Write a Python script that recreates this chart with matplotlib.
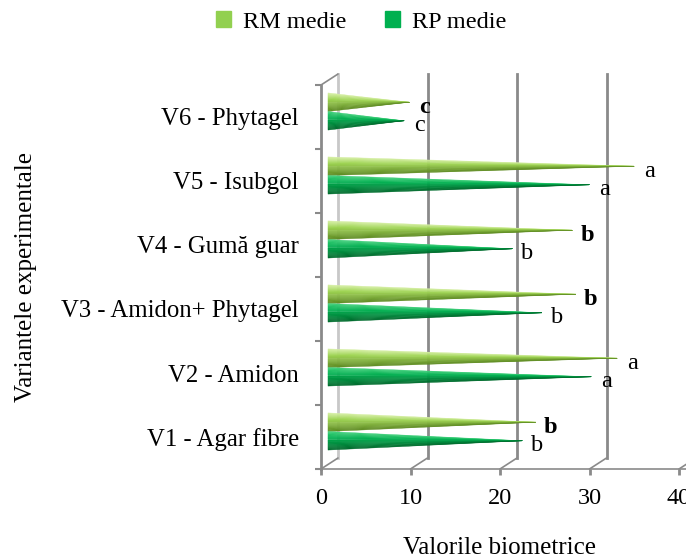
import matplotlib.pyplot as plt
import numpy as np
from matplotlib.patches import Polygon, Patch, ConnectionPatch
from matplotlib.colors import to_rgb
from matplotlib.transforms import offset_copy

plt.rcParams['font.family'] = ['Liberation Serif', 'DejaVu Serif']

variante = ['V1 - Agar fibre', 'V2 - Amidon', 'V3 - Amidon+ Phytagel',
            'V4 - Gumă guar', 'V5 - Isubgol', 'V6 - Phytagel']
rm_medie = [23.2, 32.3, 27.7, 27.3, 34.2, 9.1]
rp_medie = [21.7, 29.4, 23.9, 20.6, 29.2, 8.5]
rm_litere = ['b', 'a', 'b', 'b', 'a', 'c']
rp_litere = ['b', 'a', 'b', 'b', 'a', 'c']
rm_bold = [True, False, True, True, False, True]
x_ticks = [0, 10, 20, 30, 40]

# culori (sus, mijloc, jos) pentru umbrirea conurilor
rm_cul = ['#d8f0a8', '#9fd453', '#5e8a22']
rp_cul = ['#45d27e', '#00b050', '#006a2c']

fig = plt.figure(figsize=(6.86, 5.6), dpi=100)
ax = fig.add_axes([321 / 686, 91 / 560, 358 / 686, 384 / 560])
ax.set_xlim(0, 40)
ax.set_ylim(0, 6)

gri = '#8a8a8a'
back = offset_copy(ax.transData, fig=fig, x=17, y=11, units='dots')
mid = offset_copy(ax.transData, fig=fig, x=7, y=5.5, units='dots')

# peretele din spate
for xv in [0, 10, 20, 30]:
    c = '#c8c8c8' if xv == 0 else gri
    ax.plot([xv, xv], [0, 6], transform=back, color=c, lw=2, clip_on=False, zorder=1)
    ax.add_artist(ConnectionPatch((xv, 0), (xv, 0), coordsA=ax.transData,
                                  coordsB=back, color=gri, lw=1.2, zorder=1))
ax.add_artist(ConnectionPatch((40, 0), (40, 0), coordsA=ax.transData,
                              coordsB=back, color=gri, lw=1.2, zorder=1))
ax.add_artist(ConnectionPatch((0, 6), (0, 6), coordsA=ax.transData,
                              coordsB=back, color=gri, lw=1.2, zorder=1))
ax.plot([0, 41], [0, 0], color=gri, lw=1.2, clip_on=False, zorder=2)


def mix(c1, c2, t):
    a, b = np.array(to_rgb(c1)), np.array(to_rgb(c2))
    return a + (b - a) * t


def con(yc, v, cul, r=0.145, n=16):
    for k in range(n):
        y0 = yc + r - 2 * r * k / n
        y1 = yc + r - 2 * r * (k + 1) / n
        t = (k + 0.5) / n
        if t < 0.35:
            col = mix(cul[0], cul[1], t / 0.35)
        else:
            col = mix(cul[1], cul[2], (t - 0.35) / 0.65)
        ax.add_patch(Polygon([(0, y0), (0, y1), (v, yc)], closed=True,
                             transform=mid, facecolor=col, edgecolor=col,
                             lw=0.3, clip_on=False, zorder=3))


for i in range(len(variante)):
    yc = i + 0.5
    con(yc + 0.145, rm_medie[i], rm_cul)
    con(yc - 0.145, rp_medie[i], rp_cul)
    ax.annotate(rm_litere[i], xy=(rm_medie[i], yc + 0.145), xycoords=mid,
                xytext=(15, -5), textcoords='offset pixels', ha='center',
                va='center', fontsize=17.5,
                fontweight='bold' if rm_bold[i] else 'normal', zorder=4)
    ax.annotate(rp_litere[i], xy=(rp_medie[i], yc - 0.145), xycoords=mid,
                xytext=(15, -5), textcoords='offset pixels', ha='center',
                va='center', fontsize=17.5, zorder=4)

for s in ['top', 'right', 'bottom']:
    ax.spines[s].set_visible(False)
ax.spines['left'].set_color(gri)
ax.spines['left'].set_linewidth(2)

ax.set_yticks(np.arange(6) + 0.5, variante, fontsize=17.8)
ax.set_yticks(np.arange(7), minor=True)
ax.tick_params(axis='y', which='major', length=0, pad=16)
ax.tick_params(axis='y', which='minor', length=4.5, width=1.5, color=gri)
ax.set_xticks(x_ticks, [str(v) for v in x_ticks], fontsize=17.5)
ax.tick_params(axis='x', length=4, width=2, color=gri, pad=10)

ax.set_xlabel('Valorile biometrice', fontsize=18, labelpad=20)
ax.set_ylabel('Variantele experimentale', fontsize=18)
ax.yaxis.set_label_coords(-(321 - 37) / 358, 0.5)

fig.legend(handles=[Patch(color='#92d050', label='RM medie'),
                    Patch(color='#00b050', label='RP medie')],
           loc='center', bbox_to_anchor=(361 / 686, 1 - 22 / 560), ncol=2,
           frameon=False, fontsize=17.5, handlelength=0.6, handleheight=0.6,
           handletextpad=0.5, columnspacing=1.6)

fig.savefig('out.png', dpi=100)
